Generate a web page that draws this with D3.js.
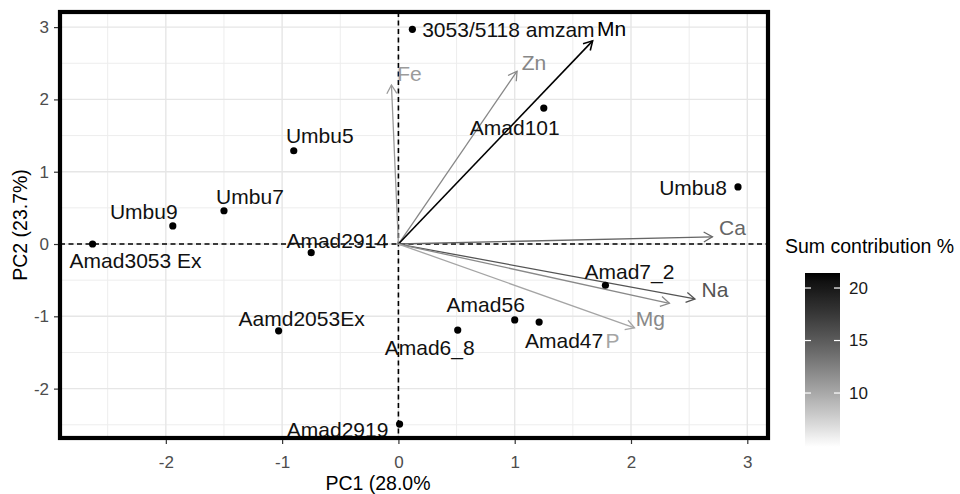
<!DOCTYPE html>
<html><head><meta charset="utf-8">
<script src="https://cdn.jsdelivr.net/npm/d3@7"></script>
<style>body{margin:0;background:#fff}svg{display:block;font-family:"Liberation Sans",Arial,sans-serif}</style>
</head><body><svg id="c" width="960" height="494"></svg>
<script>
// ---- data ----
const sampleNames = ["Amad3053 Ex","Umbu9","Umbu7","Umbu5","Amad2914","Aamd2053Ex","Amad2919","3053/5118 amzam","Amad101","Umbu8","Amad7_2","Amad56","Amad47","Amad6_8"];
const samplePC1 = [-2.63,-1.94,-1.50,-0.90,-0.75,-1.03,0.01,0.12,1.25,2.92,1.78,1.00,1.21,0.51];
const samplePC2 = [0.00,0.25,0.46,1.29,-0.12,-1.20,-2.49,2.97,1.88,0.79,-0.57,-1.05,-1.08,-1.19];
const varNames = ["Fe","Zn","Mn","Ca","Na","Mg","P"];
const varPC1 = [-0.06,1.02,1.67,2.70,2.55,2.33,2.03];
const varPC2 = [2.20,2.39,2.81,0.10,-0.76,-0.82,-1.16];
const varContrib = [10.8,12.1,21.43,14.3,15.5,12.0,10.2];
const xTicks = [-2,-1,0,1,2,3];
const yTicks = [-2,-1,0,1,2,3];
const legendTicks = [10,15,20];
const xLimits = [-2.91,3.178];
const yLimits = [-2.683,3.209];
const contribLimits = [4.86,21.43];
const xTitle = "PC1 (28.0%";
const yTitle = "PC2 (23.7%)";
const legendTitle = "Sum contribution %";

// ---- layout (label nudges in px) ----
const sampleLabelNudge = [[43,17],[-29,-14],[26,-14],[26,-15],[26,-12],[23,-12],[-62,6],[96,0],[-29,20],[-45,1],[24,-14],[-29,-15],[25,19],[-28,18]];
const varLabelNudge = [[18,-11],[17,-9],[19,-12],[20,-9],[20,-9],[-19,15],[-22,13]];

const svg = d3.select("#c");
const L=60,R=768,T=12,B=438;
const x = d3.scaleLinear().domain(xLimits).range([L,R]);
const y = d3.scaleLinear().domain(yLimits).range([B,T]);
const col = d3.scaleLinear().domain(contribLimits).range(["#ffffff","#000000"]).interpolate(d3.interpolateLab);

// grid
const g = svg.append("g");
const minorX = d3.range(-2.5,3.5,1), minorY = d3.range(-2.5,3.5,1);
g.selectAll(".mx").data(minorX).join("line").attr("x1",d=>x(d)).attr("x2",d=>x(d)).attr("y1",T).attr("y2",B).attr("stroke","#ededed").attr("stroke-width",1);
g.selectAll(".my").data(minorY).join("line").attr("y1",d=>y(d)).attr("y2",d=>y(d)).attr("x1",L).attr("x2",R).attr("stroke","#ededed").attr("stroke-width",1);
g.selectAll(".gx").data(xTicks).join("line").attr("x1",d=>x(d)).attr("x2",d=>x(d)).attr("y1",T).attr("y2",B).attr("stroke","#e6e6e6").attr("stroke-width",1.4);
g.selectAll(".gy").data(yTicks).join("line").attr("y1",d=>y(d)).attr("y2",d=>y(d)).attr("x1",L).attr("x2",R).attr("stroke","#e6e6e6").attr("stroke-width",1.4);

// reference dashed lines
svg.append("line").attr("x1",x(0)).attr("x2",x(0)).attr("y1",T).attr("y2",B).attr("stroke","#000").attr("stroke-width",1.6).attr("stroke-dasharray","5,3.5");
svg.append("line").attr("y1",y(0)).attr("y2",y(0)).attr("x1",L).attr("x2",R).attr("stroke","#000").attr("stroke-width",1.6).attr("stroke-dasharray","5,3.5");

// arrows
const vars = varNames.map((n,i)=>({n,px:varPC1[i],py:varPC2[i],c:varContrib[i],nd:varLabelNudge[i]}));
const ag = svg.append("g");
vars.forEach(v=>{
  const x0=x(0),y0=y(0),x1=x(v.px),y1=y(v.py);
  const ang=Math.atan2(y1-y0,x1-x0), len=10, sp=Math.PI/6;
  const c=col(v.c);
  const w = v.n==="Mn"?1.6:1.3;
  ag.append("line").attr("x1",x0).attr("y1",y0).attr("x2",x1).attr("y2",y1).attr("stroke",c).attr("stroke-width",w);
  ag.append("path").attr("d",`M${x1-len*Math.cos(ang-sp)},${y1-len*Math.sin(ang-sp)}L${x1},${y1}L${x1-len*Math.cos(ang+sp)},${y1-len*Math.sin(ang+sp)}`)
    .attr("fill","none").attr("stroke",c).attr("stroke-width",w);
  ag.append("text").attr("x",x1+v.nd[0]).attr("y",y1+v.nd[1]).attr("dy","0.35em").attr("text-anchor","middle")
    .attr("font-size",21).attr("fill",c).text(v.n);
});

// points
const samples = sampleNames.map((n,i)=>({n,px:samplePC1[i],py:samplePC2[i],nd:sampleLabelNudge[i]}));
svg.append("g").selectAll("circle").data(samples).join("circle").attr("cx",d=>x(d.px)).attr("cy",d=>y(d.py)).attr("r",3.6).attr("fill","#000");
svg.append("g").selectAll("text").data(samples).join("text").attr("x",d=>x(d.px)+d.nd[0]).attr("y",d=>y(d.py)+d.nd[1]).attr("dy","0.35em")
  .attr("text-anchor","middle").attr("font-size",21).attr("fill","#111").text(d=>d.n);

// panel border
svg.append("rect").attr("x",L).attr("y",T).attr("width",R-L).attr("height",B-T).attr("fill","none").attr("stroke","#000").attr("stroke-width",4.2);

// axes
const xa = svg.append("g").attr("transform",`translate(0,${B+2})`).call(d3.axisBottom(x).tickValues(xTicks).tickSize(4).tickPadding(12).tickFormat(d3.format("d")));
const ya = svg.append("g").attr("transform",`translate(${L-2},0)`).call(d3.axisLeft(y).tickValues(yTicks).tickSize(4).tickPadding(5).tickFormat(d3.format("d")));
[xa,ya].forEach(a=>{a.select(".domain").remove();a.selectAll("line").attr("stroke","#333").attr("stroke-width",1.2);
  a.selectAll("text").attr("font-size",17).attr("fill","#4d4d4d").attr("font-family","Liberation Sans, Arial, sans-serif");});
xa.selectAll("text").text(d=>d<0?"-"+Math.abs(d):d);
ya.selectAll("text").text(d=>d<0?"-"+Math.abs(d):d);

svg.append("text").attr("x",378).attr("y",490).attr("text-anchor","middle").attr("font-size",19.5).attr("fill","#000").text(xTitle);
svg.append("text").attr("transform",`translate(27,${(T+B)/2}) rotate(-90)`).attr("text-anchor","middle").attr("font-size",19.5).attr("fill","#000").text(yTitle);

// legend
const lx=805,lw=35,lt=273,lb=447;
const ls = d3.scaleLinear().domain(contribLimits).range([lb,lt]);
const defs = svg.append("defs");
const gr = defs.append("linearGradient").attr("id","lg").attr("x1",0).attr("y1",1).attr("x2",0).attr("y2",0);
d3.range(0,1.0001,0.05).forEach(t=>gr.append("stop").attr("offset",t).attr("stop-color",col(contribLimits[0]+t*(contribLimits[1]-contribLimits[0]))));
svg.append("rect").attr("x",lx).attr("y",lt).attr("width",lw).attr("height",lb-lt).attr("fill","url(#lg)");
legendTicks.forEach(t=>{
  svg.append("line").attr("x1",lx).attr("x2",lx+6).attr("y1",ls(t)).attr("y2",ls(t)).attr("stroke","#fff").attr("stroke-width",1.2);
  svg.append("line").attr("x1",lx+lw-6).attr("x2",lx+lw).attr("y1",ls(t)).attr("y2",ls(t)).attr("stroke","#fff").attr("stroke-width",1.2);
  svg.append("text").attr("x",lx+lw+9).attr("y",ls(t)).attr("dy","0.35em").attr("font-size",17).attr("fill","#1a1a1a").text(t);
});
svg.append("text").attr("x",785).attr("y",246).attr("dy","0.35em").attr("font-size",19.5).attr("fill","#000").text(legendTitle);
</script></body></html>
